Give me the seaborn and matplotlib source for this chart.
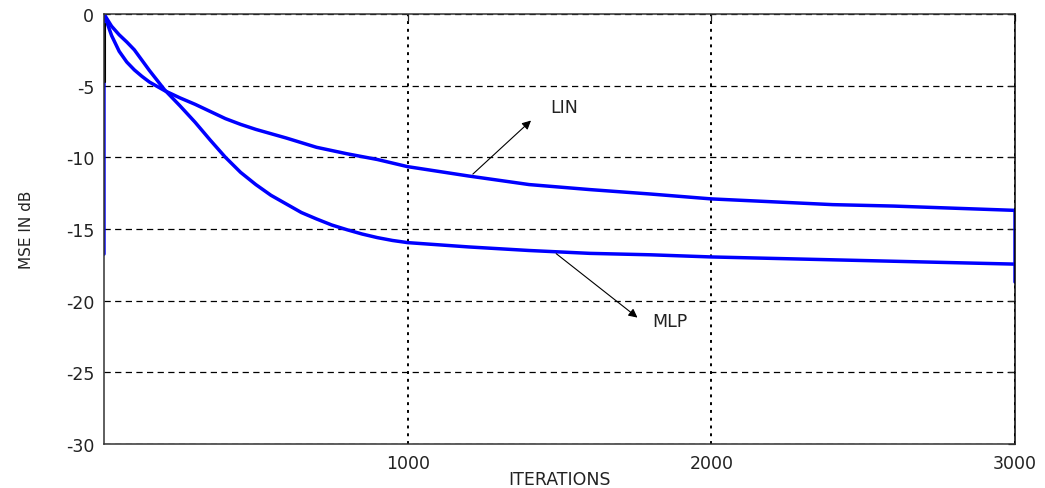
import numpy as np
import pandas as pd
import matplotlib
matplotlib.use("Agg")
import matplotlib.pyplot as plt
import seaborn as sns

# ---------------------------------------------------
# Data (MSE learning curves)
# ---------------------------------------------------
lin_iters = [0, 25, 50, 75, 100, 125, 150, 175, 200, 225, 250, 300, 350, 400,
             450, 500, 600, 700, 800, 900, 1000, 1200, 1400, 1600, 1800, 2000,
             2200, 2400, 2600, 2800, 3000]
lin_mse = [0.0, -1.5, -2.6, -3.35, -3.9, -4.35, -4.75, -5.05, -5.35, -5.6, -5.85,
           -6.3, -6.8, -7.3, -7.7, -8.05, -8.65, -9.3, -9.75, -10.15, -10.65,
           -11.3, -11.9, -12.25, -12.56, -12.9, -13.1, -13.3, -13.4, -13.55, -13.7]

mlp_iters = [0, 25, 50, 75, 100, 150, 200, 250, 300, 350, 400, 450, 500, 550,
             600, 650, 700, 750, 800, 850, 900, 950, 1000, 1200, 1400, 1600,
             1800, 2000, 2200, 2400, 2600, 2800, 3000]
mlp_mse = [0.0, -0.85, -1.45, -1.95, -2.5, -3.95, -5.3, -6.4, -7.55, -8.8, -10.0,
           -11.05, -11.9, -12.65, -13.25, -13.85, -14.3, -14.72, -15.05, -15.35,
           -15.6, -15.8, -15.95, -16.25, -16.5, -16.7, -16.8, -16.95, -17.05,
           -17.15, -17.25, -17.35, -17.45]

# first sample of the MLP run (drop at iteration 0) and last LIN sample
mlp_first = -16.75
lin_last = -18.7

# short black start-up trace near iteration 0
start_x = [3, 3]
start_y = [-0.7, -4.75]

x_ticks = [1000, 2000, 3000]
y_ticks = [0, -5, -10, -15, -20, -25, -30]

sns.set_style("white")
plt.rcParams["font.family"] = ["DejaVu Sans"]
plt.rcParams["axes.unicode_minus"] = False

fig = plt.figure(figsize=(10.45, 4.89), dpi=100)
ax = fig.add_axes([0.0995, 0.09, 0.8718, 0.8793])

lin_df = pd.DataFrame({"x": lin_iters + [3000], "y": lin_mse + [lin_last]})
mlp_df = pd.DataFrame({"x": [0] + mlp_iters, "y": [mlp_first] + mlp_mse})

sns.lineplot(data=mlp_df, x="x", y="y", sort=False, estimator=None,
             color="#0000ff", lw=2.5, ax=ax)
sns.lineplot(data=lin_df, x="x", y="y", sort=False, estimator=None,
             color="#0000ff", lw=2.5, ax=ax)
ax.plot(start_x, start_y, color="black", lw=1.5)

ax.set_xlim(0, 3000)
ax.set_ylim(-30, 0)
ax.set_xticks(x_ticks)
ax.set_yticks(y_ticks)
ax.set_xticklabels([str(t) for t in x_ticks])
ax.set_yticklabels([str(t) for t in y_ticks])

ax.yaxis.grid(True, linestyle=(0, (5, 3.5)), color="black", lw=0.9)
ax.xaxis.grid(True, linestyle=(0, (1.5, 2.5)), color="black", lw=1.4)
ax.set_axisbelow(True)

for side in ["left", "bottom", "top", "right"]:
    ax.spines[side].set_color("#333333")
    ax.spines[side].set_linewidth(1.1)
ax.spines["right"].set_color("black")

ax.tick_params(direction="in", length=5, width=0.9, top=True, right=True,
               labelsize=12.5, pad=7, colors="#222222")

ax.set_xlabel("ITERATIONS", fontsize=12.5, labelpad=-1, color="#222222")
ax.set_ylabel("MSE IN dB", fontsize=11, labelpad=23, color="#222222")

# annotations
ax.annotate("", xy=(1413, -7.3), xytext=(1208, -11.3),
            arrowprops=dict(arrowstyle="-|>", color="black", lw=0.8,
                            mutation_scale=13))
ax.text(1470, -6.5, "LIN", fontsize=12.5, va="center", ha="left", color="#222222")

ax.annotate("", xy=(1764, -21.3), xytext=(1482, -16.6),
            arrowprops=dict(arrowstyle="-|>", color="black", lw=0.8,
                            mutation_scale=13))
ax.text(1805, -21.45, "MLP", fontsize=12.5, va="center", ha="left", color="#222222")

fig.savefig("out.png", dpi=100)
